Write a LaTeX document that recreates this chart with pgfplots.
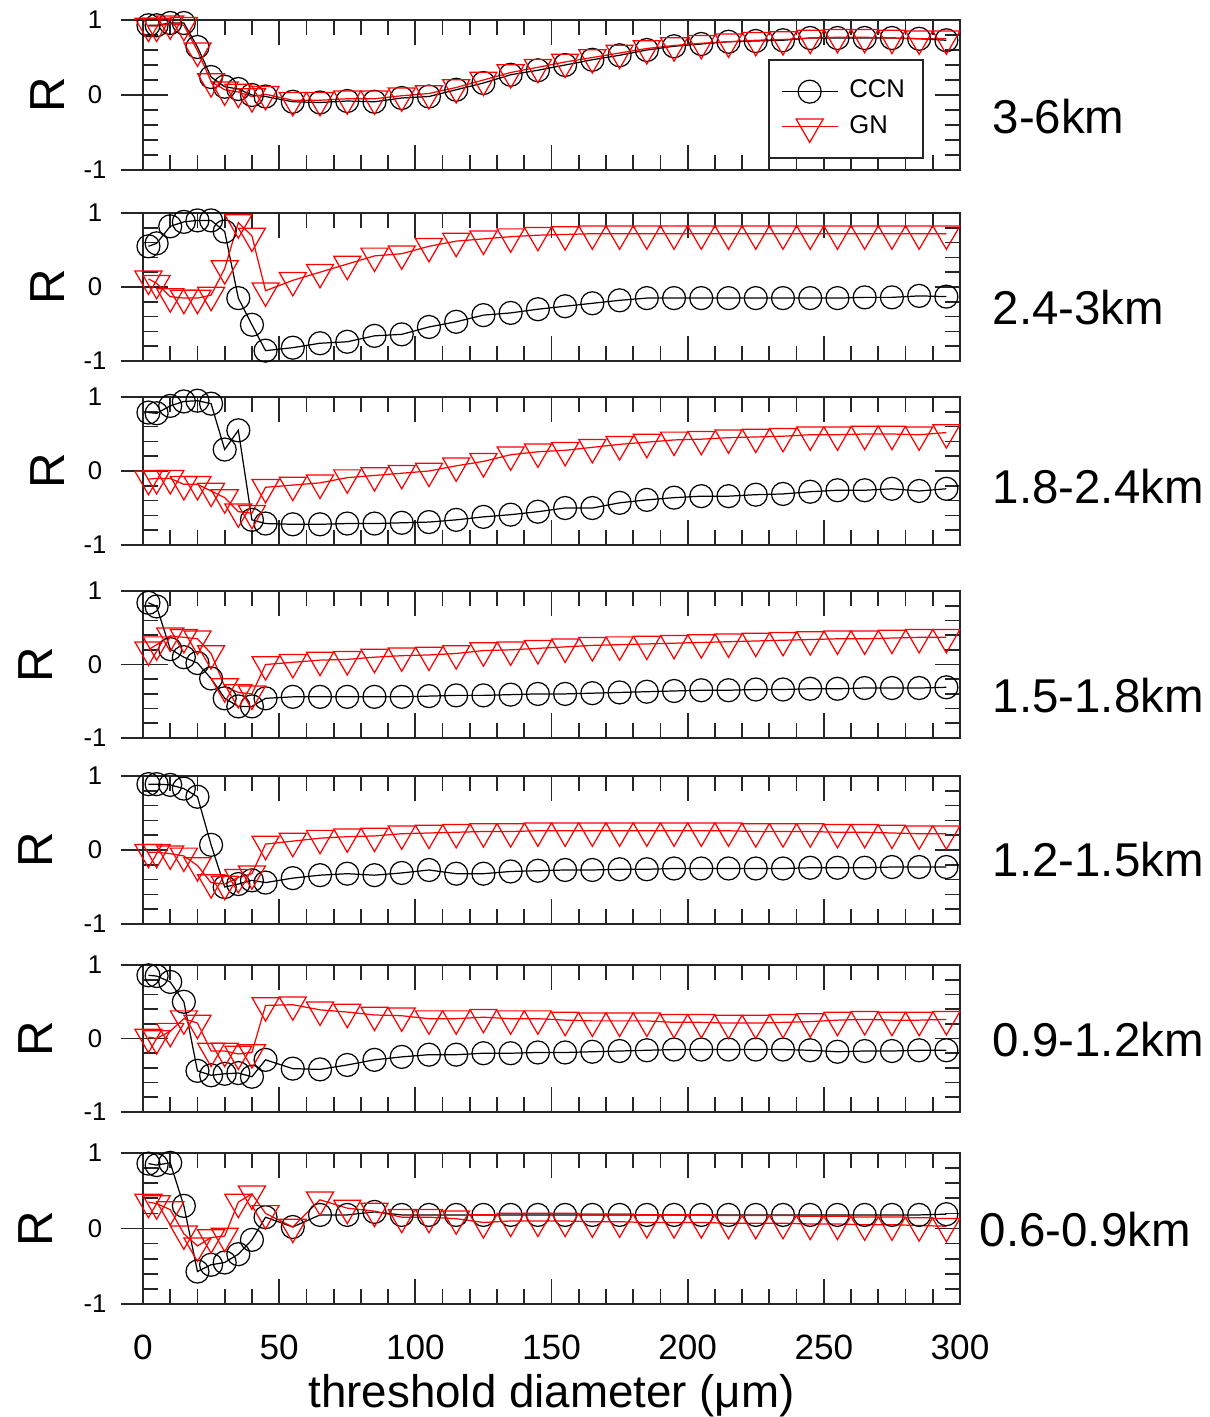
\documentclass[border=0pt]{standalone}
\usepackage{pgfplots}
\usepackage{pgfplotstable}
\pgfplotsset{compat=1.18}
\usepackage{fontspec}
\setmainfont{Liberation Sans}

% downward triangle centred on its centroid
\pgfdeclareplotmark{dtri}{%
  \pgfpathmoveto{\pgfqpointpolar{-90}{\pgfplotmarksize}}%
  \pgfpathlineto{\pgfqpointpolar{30}{\pgfplotmarksize}}%
  \pgfpathlineto{\pgfqpointpolar{150}{\pgfplotmarksize}}%
  \pgfpathclose
  \pgfusepathqstroke}

\pgfplotstableread{
x   c     g
2   0.93  0.92
5   0.93  0.92
10  0.96  0.95
15  0.96  0.93
20  0.64  0.59
25  0.24  0.18
30  0.11  0.07
35  0.08  0.04
40  0.00  -0.02
45  -0.02 0.01
55  -0.09 -0.07
65  -0.10 -0.07
75  -0.08 -0.05
85  -0.09 -0.05
95  -0.04 -0.01
105 -0.02 0.02
115 0.07  0.10
125 0.16  0.20
135 0.27  0.30
145 0.33  0.37
155 0.40  0.44
165 0.47  0.50
175 0.53  0.56
185 0.60  0.62
195 0.65  0.66
205 0.68  0.69
215 0.71  0.71
225 0.72  0.73
235 0.73  0.74
245 0.76  0.76
255 0.76  0.77
265 0.76  0.77
275 0.76  0.76
285 0.75  0.75
295 0.73  0.75
}\tabA

\pgfplotstableread{
x   c     g
2   0.55  0.11
5   0.59  0.05
10  0.82  -0.13
15  0.88  -0.15
20  0.90  -0.15
25  0.90  -0.11
30  0.75  0.25
35  -0.15 0.87
40  -0.51 0.69
45  -0.86 -0.05
55  -0.82 0.09
65  -0.76 0.20
75  -0.74 0.31
85  -0.66 0.42
95  -0.64 0.45
105 -0.54 0.55
115 -0.47 0.62
125 -0.38 0.65
135 -0.35 0.68
145 -0.30 0.70
155 -0.26 0.71
165 -0.22 0.72
175 -0.18 0.72
185 -0.15 0.72
195 -0.15 0.72
205 -0.15 0.72
215 -0.15 0.72
225 -0.15 0.72
235 -0.15 0.72
245 -0.15 0.72
255 -0.15 0.72
265 -0.14 0.72
275 -0.14 0.72
285 -0.12 0.72
295 -0.13 0.72
}\tabB

\pgfplotstableread{
x   c     g
2   0.79  -0.11
5   0.78  -0.10
10  0.88  -0.10
15  0.94  -0.18
20  0.95  -0.18
25  0.91  -0.27
30  0.29  -0.36
35  0.55  -0.55
40  -0.66 -0.57
45  -0.71 -0.22
55  -0.72 -0.19
65  -0.72 -0.16
75  -0.71 -0.09
85  -0.71 -0.06
95  -0.70 -0.03
105 -0.69 0.00
115 -0.66 0.07
125 -0.62 0.13
135 -0.59 0.22
145 -0.55 0.26
155 -0.50 0.28
165 -0.50 0.32
175 -0.43 0.36
185 -0.39 0.39
195 -0.36 0.42
205 -0.34 0.43
215 -0.34 0.45
225 -0.32 0.46
235 -0.31 0.47
245 -0.28 0.49
255 -0.26 0.49
265 -0.26 0.50
275 -0.24 0.50
285 -0.27 0.49
295 -0.24 0.52
}\tabC

\pgfplotstableread{
x   c     g
2   0.84  0.20
5   0.79  0.27
10  0.21  0.39
15  0.10  0.37
20  0.02  0.35
25  -0.19 0.15
30  -0.46 -0.30
35  -0.57 -0.38
40  -0.57 -0.40
45  -0.46 0.00
55  -0.44 0.03
65  -0.44 0.06
75  -0.44 0.07
85  -0.44 0.10
95  -0.44 0.12
105 -0.43 0.13
115 -0.42 0.15
125 -0.42 0.19
135 -0.41 0.20
145 -0.40 0.22
155 -0.40 0.24
165 -0.39 0.26
175 -0.38 0.27
185 -0.37 0.28
195 -0.36 0.29
205 -0.35 0.30
215 -0.35 0.31
225 -0.34 0.32
235 -0.34 0.33
245 -0.33 0.34
255 -0.33 0.35
265 -0.32 0.35
275 -0.32 0.36
285 -0.32 0.37
295 -0.31 0.37
}\tabD

\pgfplotstableread{
x   c     g
2   0.89  -0.03
5   0.89  -0.03
10  0.88  -0.05
15  0.83  -0.08
20  0.72  -0.21
25  0.07  -0.44
30  -0.50 -0.46
35  -0.46 -0.37
40  -0.41 -0.32
45  -0.44 0.08
55  -0.38 0.12
65  -0.34 0.16
75  -0.32 0.18
85  -0.34 0.19
95  -0.31 0.22
105 -0.27 0.23
115 -0.32 0.24
125 -0.32 0.25
135 -0.29 0.25
145 -0.28 0.26
155 -0.27 0.26
165 -0.27 0.26
175 -0.26 0.26
185 -0.26 0.26
195 -0.25 0.26
205 -0.25 0.26
215 -0.25 0.26
225 -0.25 0.25
235 -0.25 0.25
245 -0.24 0.25
255 -0.24 0.24
265 -0.24 0.24
275 -0.23 0.23
285 -0.23 0.22
295 -0.23 0.22
}\tabE

\pgfplotstableread{
x   c     g
2   0.86  0.02
5   0.85  0.00
10  0.77  0.10
15  0.50  0.27
20  -0.44 0.21
25  -0.50 -0.17
30  -0.48 -0.17
35  -0.47 -0.21
40  -0.52 -0.19
45  -0.29 0.45
55  -0.41 0.46
65  -0.42 0.39
75  -0.36 0.36
85  -0.29 0.32
95  -0.25 0.31
105 -0.22 0.27
115 -0.22 0.27
125 -0.20 0.29
135 -0.20 0.27
145 -0.19 0.27
155 -0.19 0.25
165 -0.18 0.24
175 -0.17 0.24
185 -0.16 0.24
195 -0.15 0.22
205 -0.15 0.22
215 -0.15 0.21
225 -0.15 0.21
235 -0.15 0.22
245 -0.16 0.23
255 -0.18 0.25
265 -0.17 0.26
275 -0.17 0.25
285 -0.16 0.25
295 -0.16 0.26
}\tabF

\pgfplotstableread{
x   c     g
2   0.86  0.35
5   0.84  0.33
10  0.87  0.25
15  0.30  -0.07
20  -0.57 -0.23
25  -0.48 -0.12
30  -0.45 -0.10
35  -0.34 0.35
40  -0.15 0.46
45  0.15  0.20
55  0.02  0.02
65  0.18  0.38
75  0.18  0.27
85  0.22  0.23
95  0.18  0.15
105 0.18  0.15
115 0.18  0.13
125 0.18  0.08
135 0.18  0.10
145 0.18  0.10
155 0.18  0.10
165 0.18  0.09
175 0.18  0.09
185 0.18  0.08
195 0.18  0.08
205 0.18  0.08
215 0.18  0.07
225 0.18  0.07
235 0.18  0.07
245 0.18  0.06
255 0.18  0.06
265 0.18  0.05
275 0.18  0.05
285 0.18  0.04
295 0.19  0.03
}\tabG

\pgfplotsset{
  rpanel/.style={
    width=81.7mm, scale only axis,
    xmin=0, xmax=300, ymin=-1, ymax=1,
    xtick={0,50,...,300}, minor x tick num=4,
    ytick={-1,0,1}, minor y tick num=4,
    tick align=inside,
    major tick length=2.5mm, minor tick length=1.5mm,
    xticklabels={}, yticklabels={-1,0,1},
    yticklabel style={font=\fontsize{7.3}{8}\selectfont, anchor=center, xshift=-4.8mm},
    axis line style={line width=0.6pt, black!85},
    every tick/.style={black!85, line width=0.5pt},
    clip=false,
  },
  ccn/.style={black, line width=0.35pt, mark=o, mark size=1.15mm},
  gn/.style={red, line width=0.35pt, mark=dtri, mark size=1.56mm},
}
\newcommand{\outticks}{%
  \draw[black!85, line width=0.5pt] (axis cs:0,1) -- ++(-2.2mm,0pt);
  \draw[black!85, line width=0.5pt] (axis cs:0,0) -- ++(-2.2mm,0pt);
  \draw[black!85, line width=0.5pt] (axis cs:0,-1) -- ++(-2.2mm,0pt);
}

\begin{document}
\begin{tikzpicture}
\useasboundingbox (0,0) rectangle (120.9mm,-141.7mm);

% 3-6 km
\begin{axis}[rpanel, height=15.0mm, at={(14.3mm,-17.0mm)}, anchor=south west,
  legend style={at={(0.765,0.74)}, anchor=north west,
    font=\fontsize{7.3}{8}\selectfont, draw=black!85, line width=0.6pt,
    inner xsep=1.2mm, inner ysep=1.4mm, row sep=0mm, column sep=0.5mm,
    nodes={inner sep=0.6mm}},
  legend cell align=left,
  legend image code/.code={%
    \draw[mark repeat=2,mark phase=2,#1] plot coordinates {(0mm,0mm) (2.8mm,0mm) (5.6mm,0mm)};}]
\addplot[ccn] table[x=x,y=c] {\tabA};
\addplot[gn] table[x=x,y=g] {\tabA};
\legend{CCN,GN}
\outticks
\end{axis}

% 2.4-3 km
\begin{axis}[rpanel, height=14.8mm, at={(14.3mm,-36.1mm)}, anchor=south west]
\addplot[ccn] table[x=x,y=c] {\tabB};
\addplot[gn] table[x=x,y=g] {\tabB};
\outticks
\end{axis}

% 1.8-2.4 km
\begin{axis}[rpanel, height=14.8mm, at={(14.3mm,-54.5mm)}, anchor=south west]
\addplot[ccn] table[x=x,y=c] {\tabC};
\addplot[gn] table[x=x,y=g] {\tabC};
\outticks
\end{axis}

% 1.5-1.8 km
\begin{axis}[rpanel, height=14.7mm, at={(14.3mm,-73.8mm)}, anchor=south west]
\addplot[ccn] table[x=x,y=c] {\tabD};
\addplot[gn] table[x=x,y=g] {\tabD};
\outticks
\end{axis}

% 1.2-1.5 km
\begin{axis}[rpanel, height=14.8mm, at={(14.3mm,-92.4mm)}, anchor=south west]
\addplot[ccn] table[x=x,y=c] {\tabE};
\addplot[gn] table[x=x,y=g] {\tabE};
\outticks
\end{axis}

% 0.9-1.2 km
\begin{axis}[rpanel, height=14.7mm, at={(14.3mm,-111.2mm)}, anchor=south west]
\addplot[ccn] table[x=x,y=c] {\tabF};
\addplot[gn] table[x=x,y=g] {\tabF};
\outticks
\end{axis}

% 0.6-0.9 km
\begin{axis}[rpanel, height=15.1mm, at={(14.3mm,-130.4mm)}, anchor=south west,
  xticklabels={0,50,100,150,200,250,300},
  xticklabel style={font=\fontsize{10}{12}\selectfont, yshift=-1.9mm}]
\addplot[ccn] table[x=x,y=c] {\tabG};
\addplot[gn] table[x=x,y=g] {\tabG};
\outticks
\end{axis}

% R labels
\foreach \yy/\xx in {9.5/4.8, 28.7/4.8, 47.1/4.8, 66.45/3.6, 85.0/3.6, 103.85/3.6, 122.85/3.6}
  \node[rotate=90, font=\fontsize{14}{16}\selectfont, inner sep=0pt] at (\xx mm,-\yy mm) {R};

% panel labels
\begin{scope}[every node/.style={anchor=west, inner sep=0pt, font=\fontsize{13.5}{16}\selectfont}]
\node at (99.2mm,-11.7mm) {3-6km};
\node at (99.2mm,-30.8mm) {2.4-3km};
\node at (99.2mm,-48.7mm) {1.8-2.4km};
\node at (99.2mm,-69.6mm) {1.5-1.8km};
\node at (99.2mm,-86.0mm) {1.2-1.5km};
\node at (99.2mm,-104.0mm) {0.9-1.2km};
\node at (97.9mm,-123.0mm) {0.6-0.9km};
\end{scope}

\node[anchor=base, inner sep=0pt, font=\fontsize{13}{15}\selectfont] at (55.15mm,-140.7mm) {threshold diameter (μm)};
\end{tikzpicture}
\end{document}
